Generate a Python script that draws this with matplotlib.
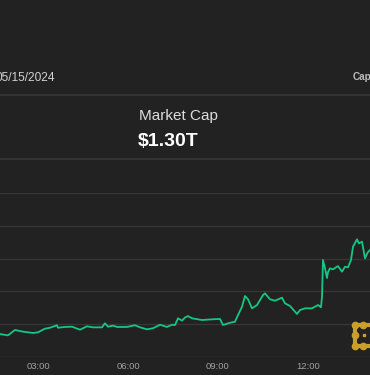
import matplotlib
matplotlib.use("Agg")
import matplotlib.pyplot as plt

# market cap (trillions USD) over the day, hours since 00:00
hours = [1.733, 2.0, 2.233, 2.5, 2.833, 3.0, 3.233, 3.4, 3.633, 3.667, 3.9, 4.133,
         4.4, 4.633, 4.833, 5.133, 5.233, 5.333, 5.5, 5.633, 5.967, 6.233, 6.4, 6.633,
         6.833, 7.067, 7.3, 7.467, 7.567, 7.667, 7.8, 7.9, 8.0, 8.133, 8.467, 8.8,
         9.067, 9.167, 9.4, 9.567, 9.667, 9.8, 9.9, 10.0, 10.133, 10.3, 10.5, 10.567,
         10.733, 10.9, 11.133, 11.233, 11.4, 11.633, 11.733, 11.9, 12.133, 12.333,
         12.433, 12.467, 12.5, 12.567, 12.633, 12.667, 12.733, 12.833, 13.0, 13.133,
         13.233, 13.333, 13.433, 13.5, 13.633, 13.7, 13.8, 13.9, 14.0, 14.067]
caps = [1.2375, 1.2365, 1.2406, 1.2393, 1.2383, 1.2388, 1.2416, 1.2423, 1.2442, 1.2423,
        1.2429, 1.2431, 1.2408, 1.2434, 1.2426, 1.2426, 1.2457, 1.2431, 1.2439, 1.2429,
        1.2429, 1.2442, 1.2426, 1.2411, 1.2419, 1.2446, 1.2429, 1.2446, 1.2444, 1.2495,
        1.2477, 1.2501, 1.2512, 1.2495, 1.2482, 1.2487, 1.2490, 1.2444, 1.2461, 1.2469,
        1.2520, 1.2583, 1.2665, 1.2640, 1.2571, 1.2596, 1.2672, 1.2685, 1.2640, 1.2629,
        1.2652, 1.2609, 1.2589, 1.2528, 1.2558, 1.2571, 1.2571, 1.2596, 1.2579, 1.2660,
        1.2939, 1.2876, 1.2802, 1.2848, 1.2876, 1.2868, 1.2893, 1.2850, 1.2888, 1.2883,
        1.2939, 1.3040, 1.3097, 1.3066, 1.3079, 1.2952, 1.3000, 1.3015]

tick_hours = [3, 6, 9, 12]
tick_labels = ["03:00", "06:00", "09:00", "12:00"]
grid_levels = [1.22, 1.245, 1.27, 1.295, 1.32, 1.345]

date_text = "05/15/2024"
title_text = "Market Cap"
value_text = "$1.30T"

BG = "#222222"
GRID = "#363636"
GREEN = "#16c784"
FONT = "Liberation Sans"

fig = plt.figure(figsize=(3.7, 3.75), dpi=100, facecolor=BG)

# chart axes: gridlines from y=193px to y=357px
W, H = 370, 375
ax = fig.add_axes([0, (H - 357) / H, 1, (357 - 193) / H])
ax.set_facecolor(BG)
ax.plot(hours, caps, color=GREEN, lw=1.3, solid_joinstyle="round")
ax.set_xlim(52 / 30, (370 + 52) / 30)
ax.set_ylim(grid_levels[0], grid_levels[-1])
ax.set_yticks(grid_levels)
ax.yaxis.grid(True, color=GRID, lw=1)
ax.set_xticks(tick_hours)
ax.set_xticklabels(tick_labels, fontsize=6.8, color="#a0a0a0", family=FONT)
ax.tick_params(axis="x", length=0, pad=3.5)
ax.tick_params(axis="y", length=0, labelleft=False)
for s in ax.spines.values():
    s.set_visible(False)

# overlay in pixel coordinates for header text and decorations
ov = fig.add_axes([0, 0, 1, 1], facecolor="none")
ov.set_xlim(0, W)
ov.set_ylim(H, 0)
ov.axis("off")

ov.axhline(95, color="#333333", lw=1.5)
ov.axhline(159, color="#333333", lw=1.5)

ov.text(-4, 78, date_text, fontsize=8.6, color="#d2d2d2", family=FONT,
        ha="left", va="center")
ov.text(353, 77, "Cap", fontsize=7.2, color="#bdbdbd", family=FONT,
        weight="bold", ha="left", va="center")
ov.text(139, 116, title_text, fontsize=11, color="#dddddd", family=FONT,
        ha="left", va="center")
ov.text(138, 142, value_text, fontsize=14, color="white", family=FONT,
        weight="bold", ha="left", va="center")

# watermark icon (gold dotted square, cut by right edge)
gold = "#c9a02c"
ix = [372, 355, 355, 372]
iy = [324.5, 324.5, 346, 346]
ov.plot(ix, iy, color=gold, lw=3, solid_capstyle="round")
ov.plot([355, 355, 355, 363, 363], [324.5, 335, 346, 324.5, 346], "o",
        color=gold, ms=4.5)
ov.plot([364], [335], "s", color=gold, ms=1.5)

fig.savefig("out.png", dpi=100, facecolor=BG)
